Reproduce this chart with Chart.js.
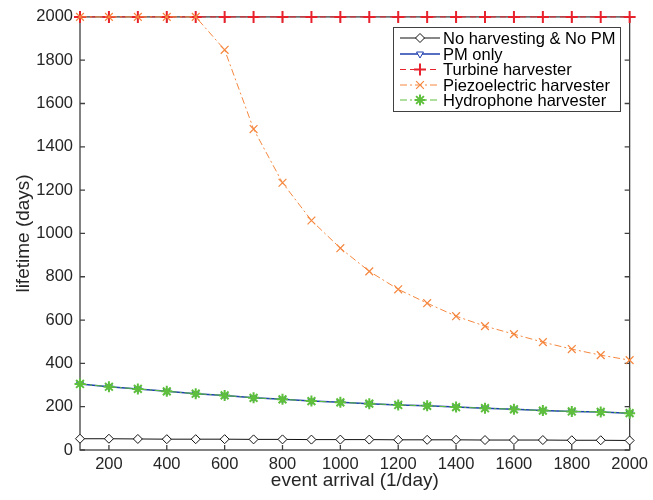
<!DOCTYPE html>
<html>
<head>
<meta charset="utf-8">
<script src="https://cdn.jsdelivr.net/npm/chart.js@4.4.0/dist/chart.umd.min.js"></script>
<style>
  html, body { margin: 0; padding: 0; background: #fff; }
</style>
</head>
<body>
<canvas id="chart" width="653" height="500"></canvas>
<script>
// event arrival rate (1/day)
const eventArrival = [100, 200, 300, 400, 500, 600, 700, 800, 900, 1000,
  1100, 1200, 1300, 1400, 1500, 1600, 1700, 1800, 1900, 2000];
const xTickValues = [200, 400, 600, 800, 1000, 1200, 1400, 1600, 1800, 2000];

// lifetime (days)
const noHarvesting = [52, 52, 51, 50, 50, 50, 49, 49, 48, 48, 48, 47, 47, 47, 46, 46, 46, 45, 45, 44];
const pmOnly = [305, 292, 282, 271, 260, 252, 241, 234, 226, 220, 214, 208, 204, 198, 193, 188, 182, 178, 176, 170];
const turbine = [2000, 2000, 2000, 2000, 2000, 2000, 2000, 2000, 2000, 2000,
  2000, 2000, 2000, 2000, 2000, 2000, 2000, 2000, 2000, 2000];
const piezo = [2000, 2000, 2000, 2000, 2000, 1848, 1482, 1234, 1060, 932,
  825, 742, 678, 618, 572, 535, 498, 466, 438, 415];
const hydrophone = [305, 292, 282, 271, 260, 252, 241, 234, 226, 220, 214, 208, 204, 198, 193, 188, 182, 178, 176, 170];

const seriesNames = ["No harvesting & No PM", "PM only", "Turbine harvester",
  "Piezoelectric harvester", "Hydrophone harvester"];

const FONT = "'Liberation Sans', Arial, Helvetica, sans-serif";
const AXIS_COLOR = "#404040";
const TEXT_COLOR = "#262626";

function pts(ys) {
  return eventArrival.map((x, i) => ({ x: x, y: ys[i] }));
}

const datasets = [
  {
    label: seriesNames[0], data: pts(noHarvesting), order: 5,
    borderColor: "#111", borderWidth: 1, borderDash: [],
    pointStyle: "rectRot", pointRadius: 4.5, pointBorderWidth: 1,
    pointBackgroundColor: "#fff", pointBorderColor: "#111",
  },
  {
    label: seriesNames[1], data: pts(pmOnly), order: 4,
    borderColor: "#1f3fae", borderWidth: 1.5, borderDash: [],
    pointStyle: "triangle", pointRotation: 180, pointRadius: 4, pointBorderWidth: 1,
    pointBackgroundColor: "#fff", pointBorderColor: "#1f3fae",
  },
  {
    label: seriesNames[2], data: pts(turbine), order: 3,
    borderColor: "#e8222c", borderWidth: 1, borderDash: [6, 4],
    pointStyle: "cross", pointRadius: 6, pointBorderWidth: 2,
    pointBackgroundColor: "#e8222c", pointBorderColor: "#e8222c",
  },
  {
    label: seriesNames[3], data: pts(piezo), order: 2,
    borderColor: "#f5873f", borderWidth: 1, borderDash: [7, 3, 2, 3],
    pointStyle: "crossRot", pointRadius: 5.5, pointBorderWidth: 1.2,
    pointBackgroundColor: "#f5873f", pointBorderColor: "#f5873f",
  },
  {
    label: seriesNames[4], data: pts(hydrophone), order: 1,
    borderColor: "#5dbf3c", borderWidth: 1, borderDash: [7, 3, 2, 3],
    pointStyle: "star", pointRadius: 5.5, pointBorderWidth: 2,
    pointBackgroundColor: "#5dbf3c", pointBorderColor: "#5dbf3c",
  },
].map(d => Object.assign({ clip: false, tension: 0, fill: false, pointHoverRadius: d.pointRadius }, d));

function drawMarker(ctx, ds, x, y) {
  ctx.save();
  ctx.setLineDash([]);
  ctx.strokeStyle = ds.pointBorderColor;
  ctx.fillStyle = ds.pointBackgroundColor;
  ctx.lineWidth = ds.pointBorderWidth;
  Chart.helpers.drawPoint(ctx, {
    pointStyle: ds.pointStyle, radius: ds.pointRadius,
    rotation: ds.pointRotation || 0, borderWidth: ds.pointBorderWidth,
  }, x, y);
  ctx.restore();
}

const matlabAxes = {
  id: "matlabAxes",
  beforeDatasetsDraw(chart) {
    const ctx = chart.ctx;
    const a = chart.chartArea;
    const xs = chart.scales.x, ys = chart.scales.y;
    ctx.save();
    ctx.strokeStyle = AXIS_COLOR;
    ctx.lineWidth = 1.3;
    ctx.strokeRect(a.left, a.top, a.right - a.left, a.bottom - a.top);
    ctx.beginPath();
    const tl = 5;
    xTickValues.forEach(v => {
      const px = xs.getPixelForValue(v);
      ctx.moveTo(px, a.bottom); ctx.lineTo(px, a.bottom - tl);
      ctx.moveTo(px, a.top); ctx.lineTo(px, a.top + tl);
    });
    ys.ticks.forEach(t => {
      const py = ys.getPixelForValue(t.value);
      ctx.moveTo(a.left, py); ctx.lineTo(a.left + tl, py);
      ctx.moveTo(a.right, py); ctx.lineTo(a.right - tl, py);
    });
    ctx.stroke();

    // axis titles
    ctx.fillStyle = TEXT_COLOR;
    ctx.font = "19px " + FONT;
    ctx.textAlign = "center";
    ctx.textBaseline = "alphabetic";
    ctx.fillText("event arrival (1/day)", (a.left + a.right) / 2, 486);
    ctx.translate(29, (a.top + a.bottom) / 2);
    ctx.rotate(-Math.PI / 2);
    ctx.fillText("lifetime (days)", 0, 0);
    ctx.restore();
  },
  afterDraw(chart) {
    const ctx = chart.ctx;
    const box = { left: 393, top: 27, right: 620, bottom: 111 };
    ctx.save();
    ctx.fillStyle = "#fff";
    ctx.fillRect(box.left, box.top, box.right - box.left, box.bottom - box.top);
    ctx.strokeStyle = AXIS_COLOR;
    ctx.lineWidth = 1;
    ctx.strokeRect(box.left + 0.5, box.top + 0.5, box.right - box.left, box.bottom - box.top);
    const rowY = [38, 54, 69.5, 85, 100];
    chart.data.datasets.forEach((ds, i) => {
      const y = rowY[i];
      ctx.save();
      ctx.strokeStyle = ds.borderColor;
      ctx.lineWidth = ds.borderWidth;
      ctx.setLineDash(ds.borderDash);
      ctx.beginPath();
      ctx.moveTo(400, y);
      ctx.lineTo(440, y);
      ctx.stroke();
      ctx.restore();
      drawMarker(ctx, ds, 420, y);
      ctx.fillStyle = "#000";
      ctx.font = "16.5px " + FONT;
      ctx.textAlign = "left";
      ctx.textBaseline = "middle";
      ctx.fillText(ds.label, 443, y + 1);
    });
    ctx.restore();
  },
};

new Chart(document.getElementById("chart"), {
  type: "line",
  data: { datasets: datasets },
  options: {
    responsive: false,
    animation: false,
    devicePixelRatio: 1,
    layout: { padding: { top: 14, right: 21, left: 0, bottom: 0 } },
    plugins: { legend: { display: false }, tooltip: { enabled: false } },
    scales: {
      x: {
        type: "linear", min: 100, max: 2000,
        afterBuildTicks: s => { s.ticks = xTickValues.map(v => ({ value: v })); },
        afterFit: s => { s.height = 50; },
        grid: { display: false, drawTicks: false },
        border: { display: false },
        ticks: {
          color: TEXT_COLOR, font: { size: 16.5, family: FONT }, padding: 5,
          maxRotation: 0, autoSkip: false, callback: v => String(v),
        },
      },
      y: {
        type: "linear", min: 0, max: 2000,
        afterFit: s => { s.width = 80; },
        grid: { display: false, drawTicks: false },
        border: { display: false },
        ticks: {
          stepSize: 200, color: TEXT_COLOR, font: { size: 16.5, family: FONT }, padding: 7,
          callback: v => String(v),
        },
      },
    },
  },
  plugins: [matlabAxes],
});
</script>
</body>
</html>
